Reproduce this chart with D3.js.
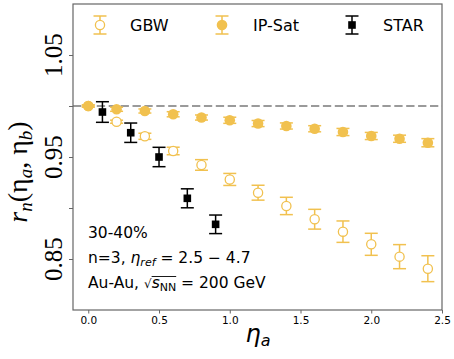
<!DOCTYPE html>
<html>
<head>
<meta charset="utf-8">
<script src="https://cdn.jsdelivr.net/npm/d3@7"></script>
<style>
  body { margin: 0; background: #fff; }
  svg { display: block; }
  text { white-space: pre; }
</style>
</head>
<body>
<div id="chart"></div>
<script>
// data
const gbwEta = [0, 0.2, 0.4, 0.6, 0.8, 1.0, 1.2, 1.4, 1.6, 1.8, 2.0, 2.2, 2.4];
const gbwR   = [1.000, 0.9846, 0.9703, 0.9559, 0.9422, 0.928, 0.915, 0.902, 0.889, 0.8768, 0.8644, 0.8523, 0.8405];
const gbwErr = [0.001, 0.0015, 0.003, 0.0037, 0.0052, 0.0059, 0.0073, 0.0085, 0.0097, 0.0105, 0.0108, 0.0118, 0.0127];

const ipEta = [0, 0.2, 0.4, 0.6, 0.8, 1.0, 1.2, 1.4, 1.6, 1.8, 2.0, 2.2, 2.4];
const ipR   = [1.000, 0.9968, 0.9951, 0.9919, 0.9887, 0.986, 0.9828, 0.9804, 0.9777, 0.9745, 0.9706, 0.9679, 0.964];
const ipErr = [0.001, 0.002, 0.002, 0.0025, 0.0025, 0.003, 0.003, 0.003, 0.003, 0.0035, 0.0035, 0.0035, 0.004];

const starEta = [0.1, 0.3, 0.5, 0.7, 0.9];
const starR   = [0.9941, 0.9738, 0.950, 0.9095, 0.884];
const starErr = [0.0101, 0.0095, 0.0095, 0.0093, 0.0091];

const xTicks = [0.0, 0.5, 1.0, 1.5, 2.0, 2.5];
const yTicks = [0.85, 0.90, 0.95, 1.00, 1.05];
const yLabeled = [0.85, 0.95, 1.05];

const W = 454, H = 359;
const plot = { left: 73, right: 442, top: 4, bottom: 310 };
const gold = "#f1c14f";

const svg = d3.select("#chart").append("svg")
  .attr("width", W).attr("height", H);

const x = d3.scaleLinear().domain([-0.108, 2.5]).range([plot.left, plot.right]);
const y = d3.scaleLinear().domain([0.8, 1.1]).range([plot.bottom, plot.top]);

// reference line at 1
svg.append("line")
  .attr("x1", plot.left).attr("x2", plot.right)
  .attr("y1", y(1)).attr("y2", y(1))
  .attr("stroke", "#9a9a9a").attr("stroke-width", 2)
  .attr("stroke-dasharray", "8.3,3.6");

const cap = 6.5;

function errorBars(g, xs, ys, es, color) {
  xs.forEach((xv, i) => {
    const cx = x(xv), lo = y(ys[i] - es[i]), hi = y(ys[i] + es[i]);
    g.append("line").attr("x1", cx).attr("x2", cx).attr("y1", lo).attr("y2", hi)
      .attr("stroke", color).attr("stroke-width", 1.5);
    [lo, hi].forEach(yy => g.append("line")
      .attr("x1", cx - cap).attr("x2", cx + cap).attr("y1", yy).attr("y2", yy)
      .attr("stroke", color).attr("stroke-width", 1.5));
  });
}

// GBW
const gG = svg.append("g");
errorBars(gG, gbwEta, gbwR, gbwErr, gold);
gG.selectAll("circle").data(gbwEta).enter().append("circle")
  .attr("cx", d => x(d)).attr("cy", (d, i) => y(gbwR[i])).attr("r", 4.6)
  .attr("fill", "#fff").attr("stroke", gold).attr("stroke-width", 1.3);

// IP-Sat
const gI = svg.append("g");
errorBars(gI, ipEta, ipR, ipErr, gold);
gI.selectAll("circle").data(ipEta).enter().append("circle")
  .attr("cx", d => x(d)).attr("cy", (d, i) => y(ipR[i])).attr("r", 5.3)
  .attr("fill", gold);

// STAR
const gS = svg.append("g");
errorBars(gS, starEta, starR, starErr, "#000");
gS.selectAll("rect").data(starEta).enter().append("rect")
  .attr("x", d => x(d) - 3.8).attr("y", (d, i) => y(starR[i]) - 3.8)
  .attr("width", 7.6).attr("height", 7.6).attr("fill", "#000");

// frame
svg.append("rect")
  .attr("x", plot.left).attr("y", plot.top)
  .attr("width", plot.right - plot.left).attr("height", plot.bottom - plot.top)
  .attr("fill", "none").attr("stroke", "#666").attr("stroke-width", 1.2);

// x axis
const xAxis = svg.append("g")
  .attr("transform", `translate(0,${plot.bottom})`)
  .call(d3.axisBottom(x).tickValues(xTicks).tickFormat(d3.format(".1f")).tickSize(3.5).tickPadding(3.5));
xAxis.select(".domain").remove();
xAxis.selectAll("line").attr("stroke", "#666");
xAxis.selectAll("text").attr("font-family", "DejaVu Sans").attr("font-size", 10.5).attr("fill", "#000");

// y axis ticks
const yAxis = svg.append("g")
  .attr("transform", `translate(${plot.left},0)`)
  .call(d3.axisLeft(y).tickValues(yTicks).tickSize(4).tickFormat(""));
yAxis.select(".domain").remove();
yAxis.selectAll("line").attr("stroke", "#666");

svg.selectAll("text.ytl").data(yLabeled).enter().append("text")
  .attr("class", "ytl")
  .attr("transform", d => `translate(62,${y(d)}) rotate(-90)`)
  .attr("text-anchor", "middle")
  .attr("font-family", "Liberation Serif").attr("font-size", 25)
  .text(d => d3.format(".2f")(d));

// y label
const yl = svg.append("text")
  .attr("transform", `translate(27,172) rotate(-90)`)
  .attr("text-anchor", "middle")
  .attr("font-family", "Liberation Serif").attr("font-style", "italic").attr("font-size", 28);
yl.append("tspan").text("r");
yl.append("tspan").attr("font-size", 19).attr("dy", 5).text("n");
yl.append("tspan").attr("dy", -5).attr("font-style", "normal").text("(η");
yl.append("tspan").attr("font-size", 19).attr("dy", 5).text("a");
yl.append("tspan").attr("dy", -5).attr("font-style", "normal").text(", η");
yl.append("tspan").attr("font-size", 19).attr("dy", 5).text("b");
yl.append("tspan").attr("dy", -5).attr("font-style", "normal").text(")");

// x label
const xl = svg.append("text")
  .attr("x", 258).attr("y", 342)
  .attr("text-anchor", "middle")
  .attr("font-family", "DejaVu Sans").attr("font-style", "italic").attr("font-size", 24);
xl.append("tspan").text("η");
xl.append("tspan").attr("font-size", 16).attr("dy", 4).text("a");

// legend
const legend = [
  { name: "GBW", mx: 100, tx: 130, kind: "open" },
  { name: "IP-Sat", mx: 222, tx: 253, kind: "filled" },
  { name: "STAR", mx: 352, tx: 383, kind: "square" }
];
const ly = 25;
legend.forEach(l => {
  const c = l.kind === "square" ? "#000" : gold;
  svg.append("line").attr("x1", l.mx).attr("x2", l.mx).attr("y1", ly - 9).attr("y2", ly + 9)
    .attr("stroke", c).attr("stroke-width", 1.5);
  [ly - 9, ly + 9].forEach(yy => svg.append("line")
    .attr("x1", l.mx - cap).attr("x2", l.mx + cap).attr("y1", yy).attr("y2", yy)
    .attr("stroke", c).attr("stroke-width", 1.5));
  if (l.kind === "open") {
    svg.append("circle").attr("cx", l.mx).attr("cy", ly).attr("r", 4.6)
      .attr("fill", "#fff").attr("stroke", gold).attr("stroke-width", 1.3);
  } else if (l.kind === "filled") {
    svg.append("circle").attr("cx", l.mx).attr("cy", ly).attr("r", 5.3).attr("fill", gold);
  } else {
    svg.append("rect").attr("x", l.mx - 3.8).attr("y", ly - 3.8)
      .attr("width", 7.6).attr("height", 7.6).attr("fill", "#000");
  }
  svg.append("text").attr("x", l.tx).attr("y", ly + 6)
    .attr("font-family", "DejaVu Sans").attr("font-size", 16).text(l.name);
});

// annotations
const fs = 15.5;
function piece(xp, yp, txt, opts = {}) {
  const t = svg.append("text").attr("x", xp).attr("y", yp)
    .attr("font-family", "DejaVu Sans").attr("font-size", opts.size || fs)
    .attr("font-style", opts.italic ? "italic" : "normal").text(txt);
  return xp + t.node().getComputedTextLength();
}
piece(88, 238, "30-40%");

let px = piece(88, 263, "n=3, ");
px = piece(px, 263, "η", { italic: true });
px = piece(px, 266, "ref", { italic: true, size: 11 });
piece(px, 263, " = 2.5 − 4.7");

px = piece(88, 288, "Au-Au, ");
px = piece(px, 288, "√", { size: 12 });
const ovStart = px;
px = piece(px, 288, "s", { italic: true });
px = piece(px, 291, "NN", { size: 11 });
svg.append("line").attr("x1", ovStart).attr("x2", px).attr("y1", 276.5).attr("y2", 276.5)
  .attr("stroke", "#000").attr("stroke-width", 0.9);
piece(px, 288, " = 200 GeV");
</script>
</body>
</html>
